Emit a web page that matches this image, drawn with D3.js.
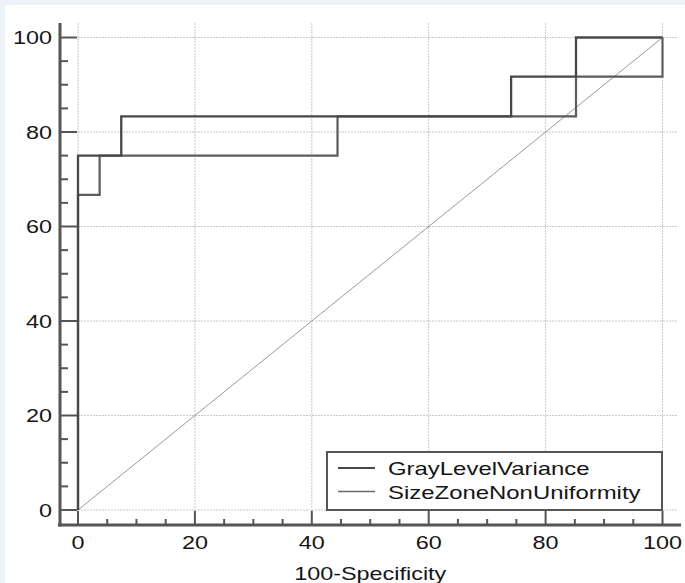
<!DOCTYPE html>
<html>
<head>
<meta charset="utf-8">
<script src="https://cdn.jsdelivr.net/npm/d3@7"></script>
<style>
  html, body { margin: 0; padding: 0; background: #eef2f9; }
  svg { display: block; }
</style>
</head>
<body>
<svg id="chart" width="685" height="583"></svg>
<script>
// ---- Data ----
const seriesNames = ["GrayLevelVariance", "SizeZoneNonUniformity"];
const glvX = [0, 0, 7.4, 7.4, 74.1, 74.1, 85.2, 85.2, 100];
const glvY = [0, 75, 75, 83.3, 83.3, 91.7, 91.7, 100, 100];
const szX  = [0, 0, 3.7, 3.7, 44.4, 44.4, 85.2, 85.2, 100, 100];
const szY  = [0, 66.7, 66.7, 75, 75, 83.3, 83.3, 91.7, 91.7, 100];
const diagX = [0, 100];
const diagY = [0, 100];
const xTicks = [0, 20, 40, 60, 80, 100];
const yTicks = [0, 20, 40, 60, 80, 100];
const xTitle = "100-Specificity";

// ---- Layout ----
const svg = d3.select("#chart");
svg.append("rect").attr("x", 5).attr("y", 5).attr("width", 680).attr("height", 578).attr("fill", "#ffffff");

const x = d3.scaleLinear().domain([0, 100]).range([78, 662.5]);
const y = d3.scaleLinear().domain([0, 100]).range([510, 37.5]);
const axisX = 60, axisY = 525, plotTop = 23, plotRight = 678;
const FONT = "'Liberation Sans', Arial, Helvetica, sans-serif";
const SX = 1.3; // horizontal stretch of glyphs in the reference
const axisColor = "#555";
const textColor = "#151515";

// gridlines
const grid = svg.append("g").attr("stroke", "#c8c8c8").attr("stroke-width", 1).attr("stroke-dasharray", "2,1");
grid.selectAll("line.v").data(xTicks).join("line")
  .attr("x1", d => x(d)).attr("x2", d => x(d)).attr("y1", plotTop).attr("y2", axisY);
grid.selectAll("line.h").data(yTicks).join("line")
  .attr("y1", d => y(d)).attr("y2", d => y(d)).attr("x1", axisX).attr("x2", plotRight);

// diagonal
const line = d3.line().x(d => x(d[0])).y(d => y(d[1]));
svg.append("path").datum(d3.zip(diagX, diagY)).attr("d", line)
  .attr("fill", "none").attr("stroke", "#9a9a9a").attr("stroke-width", 1);

// curves
svg.append("path").datum(d3.zip(szX, szY)).attr("d", line)
  .attr("fill", "none").attr("stroke", "#5c5c5c").attr("stroke-width", 2.2);
svg.append("path").datum(d3.zip(glvX, glvY)).attr("d", line)
  .attr("fill", "none").attr("stroke", "#484848").attr("stroke-width", 2.3);

// axes
const xAxisG = svg.append("g").attr("transform", `translate(0,${axisY})`);
const xMinor = d3.range(0, 101, 5).filter(v => v % 20 !== 0);
xAxisG.selectAll("line.maj").data(xTicks).join("line")
  .attr("x1", d => x(d)).attr("x2", d => x(d)).attr("y1", 0).attr("y2", -14)
  .attr("stroke", axisColor).attr("stroke-width", 2);
xAxisG.selectAll("line.min").data(xMinor).join("line")
  .attr("x1", d => x(d)).attr("x2", d => x(d)).attr("y1", 0).attr("y2", -6)
  .attr("stroke", axisColor).attr("stroke-width", 2);
xAxisG.append("line").attr("x1", axisX - 2).attr("x2", 681).attr("y1", 0).attr("y2", 0)
  .attr("stroke", axisColor).attr("stroke-width", 3);
xAxisG.selectAll("text").data(xTicks).join("text")
  .attr("transform", d => `translate(${x(d)},24) scale(${SX},1)`)
  .attr("text-anchor", "middle").attr("font-family", FONT).attr("font-size", 18).attr("fill", textColor)
  .text(d => d);

const yAxisG = svg.append("g").attr("transform", `translate(${axisX},0)`);
const yMinor = d3.range(0, 101, 5).filter(v => v % 20 !== 0);
yAxisG.selectAll("line.maj").data(yTicks).join("line")
  .attr("y1", d => y(d)).attr("y2", d => y(d)).attr("x1", 0).attr("x2", 17)
  .attr("stroke", axisColor).attr("stroke-width", 2);
yAxisG.selectAll("line.min").data(yMinor).join("line")
  .attr("y1", d => y(d)).attr("y2", d => y(d)).attr("x1", 0).attr("x2", 8)
  .attr("stroke", axisColor).attr("stroke-width", 2);
yAxisG.append("line").attr("x1", 0).attr("x2", 0).attr("y1", plotTop).attr("y2", axisY + 1.5)
  .attr("stroke", axisColor).attr("stroke-width", 3);
yAxisG.selectAll("text").data(yTicks).join("text")
  .attr("transform", d => `translate(-8,${y(d) + 6.5}) scale(${SX},1)`)
  .attr("text-anchor", "end").attr("font-family", FONT).attr("font-size", 18).attr("fill", textColor)
  .text(d => d);

// axis title
svg.append("text")
  .attr("transform", `translate(${(x(0) + x(100)) / 2},580) scale(${SX},1)`)
  .attr("text-anchor", "middle").attr("font-family", FONT).attr("font-size", 18).attr("fill", textColor)
  .text(xTitle);

// legend
const lg = svg.append("g");
lg.append("rect").attr("x", 327).attr("y", 452).attr("width", 335).attr("height", 58)
  .attr("fill", "#fff").attr("stroke", "#555").attr("stroke-width", 2);
const legStyles = [{c: "#484848", w: 2.2}, {c: "#6a6a6a", w: 1.6}];
seriesNames.forEach((name, i) => {
  const ly = 468 + i * 23.5;
  lg.append("line").attr("x1", 338).attr("x2", 375).attr("y1", ly).attr("y2", ly)
    .attr("stroke", legStyles[i].c).attr("stroke-width", legStyles[i].w);
  lg.append("text").attr("transform", `translate(388,${ly + 7}) scale(1.33,1)`)
    .attr("font-family", FONT).attr("font-size", 18).attr("fill", textColor).text(name);
});
</script>
</body>
</html>
